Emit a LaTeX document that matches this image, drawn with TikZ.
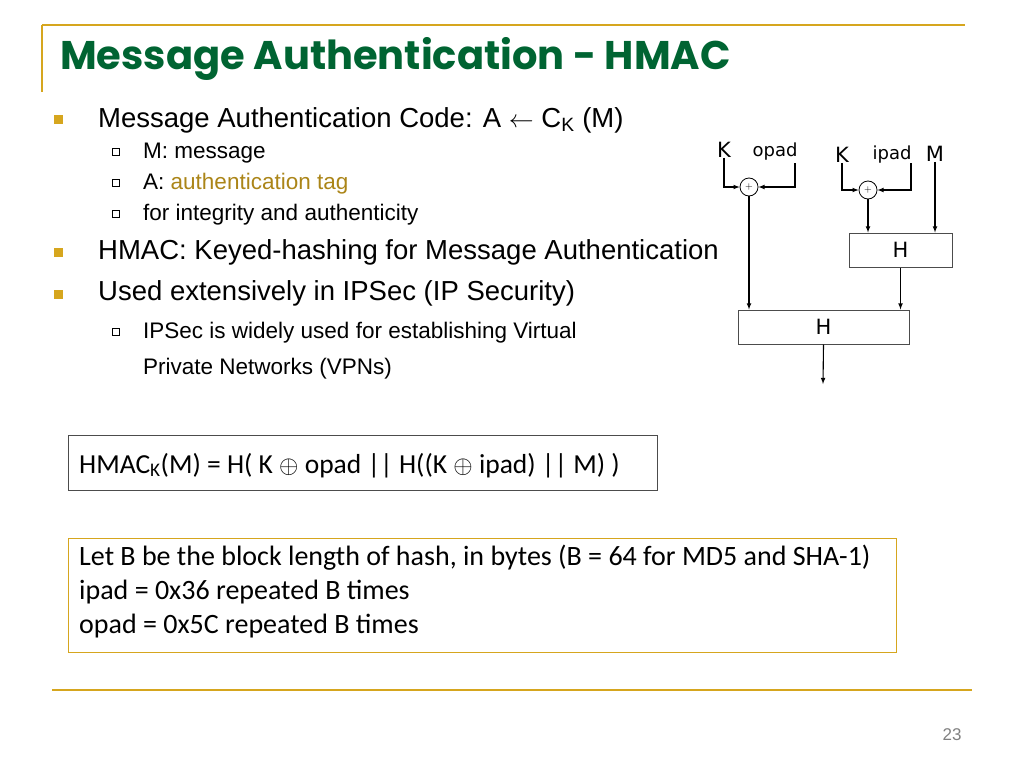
\documentclass[tikz,border=0pt]{standalone}
\usepackage{fontspec}
\setmainfont{Liberation Sans}
\newfontfamily\carl{Carlito}
\newfontfamily\ttl{Poppins}
\newfontfamily\djv{DejaVu Sans}
\begin{document}
\begin{tikzpicture}[x=1pt,y=-1pt,
  gold/.style={draw=goldc,line width=1.5pt},
  blt/.style={fill=goldc,minimum size=9pt,inner sep=0pt},
  sblt/.style={draw=black,line width=0.6pt,minimum size=7pt,inner sep=0pt},
  txt/.style={anchor=base west,inner sep=0pt,font=\fontsize{27.5}{32}\selectfont},
  stxt/.style={anchor=base west,inner sep=0pt,font=\fontsize{22.5}{26}\selectfont},
  hb/.style={draw=black!70,line width=1pt,inner sep=0pt},
  dl/.style={font=\fontsize{21}{24}\selectfont\djv,inner sep=0pt},
  xo/.style={circle,draw,line width=0.8pt,minimum size=18pt,inner sep=0pt},
  ar/.style={-latex,line width=1.1pt}]
\definecolor{goldc}{RGB}{214,166,30}
\definecolor{ttlc}{RGB}{0,100,50}
\useasboundingbox (0,0) rectangle (1024,768);
\draw[gold] (42,25) -- (965,25);
\draw[gold] (42,25) -- (42,92);
\node[anchor=base west,inner sep=0pt,text=ttlc,font=\fontsize{40}{46}\selectfont\ttl\bfseries] (title) at (60,70) {Message Authentication - HMAC};
% bullets
\node[blt] (b1) at (58,119) {};
\node[txt] (t1) at (98,127) {Message Authentication Code: A $\leftarrow$ C\textsubscript{K} (M)};
\node[sblt] (s1) at (116,152) {};
\node[stxt] (u1) at (143,158) {M: message};
\node[sblt] (s2) at (116,183) {};
\node[stxt] (u2) at (143,189) {A: \textcolor{goldc!80!black}{authentication tag}};
\node[sblt] (s3) at (116,214) {};
\node[stxt] (u3) at (143,220) {for integrity and authenticity};
\node[blt] (b2) at (58,252) {};
\node[txt] (t2) at (98,259) {HMAC: Keyed-hashing for Message Authentication};
\node[blt] (b3) at (58,294) {};
\node[txt] (t3) at (98,300) {Used extensively in IPSec (IP Security)};
\node[sblt] (s4) at (116,332) {};
\node[stxt] (u4) at (143,338) {IPSec is widely used for establishing Virtual};
\node[stxt] (u5) at (143,374) {Private Networks (VPNs)};
% formula box
\draw[draw=black!70,line width=1pt] (68,435) rectangle (657,490);
\node[anchor=base west,inner sep=0pt,font=\fontsize{27.5}{32}\selectfont\carl] (f) at (79,473) {HMAC\textsubscript{K}(M) = H( K $\oplus$ opad || H((K $\oplus$ ipad) || M) )};
\draw[gold,line width=1pt] (68,538) rectangle (896,652);
\node[anchor=north west,inner sep=0pt,align=left,font=\fontsize{28}{34}\selectfont\carl] (d) at (79,545) {Let B be the block length of hash, in bytes (B = 64 for MD5 and SHA-1)\\ipad = 0x36 repeated B times\\opad = 0x5C repeated B times};
\draw[gold] (52,690) -- (972,690);
\node[text=gray,font=\fontsize{17}{20}\selectfont] (pg) at (952,735) {23};
% diagram
\node[dl] (k1) at (724,150) {K};
\node[dl,font=\fontsize{18}{21}\selectfont\djv] (op) at (775,152) {opad};
\node[xo] (x1) at (749,187) {$+$};
\node[dl] (k2) at (842,155) {K};
\node[dl,font=\fontsize{18}{21}\selectfont\djv] (ip) at (892,155) {ipad};
\node[dl] (m) at (935,154) {M};
\node[xo] (x2) at (868,190) {$+$};
\node[hb,minimum width=103pt,minimum height=34pt,font=\fontsize{21}{24}\selectfont\djv] (h1) at (900.5,250) {H};
\node[hb,minimum width=171pt,minimum height=34pt,font=\fontsize{21}{24}\selectfont\djv] (h2) at (823.5,327) {H};
\coordinate (o) at (823,384);
\draw[ar] (k1.south) |- (x1.west);
\draw[ar] (795,163) |- (x1.east);
\draw[ar] (k2.south) |- (x2.west);
\draw[ar] (911,163) |- (x2.east);
\draw[ar] (x1.south) -- (x1.south |- h2.north);
\draw[ar] (x2.south) -- (x2.south |- h1.north);
\draw[ar] (m.south) -- (m.south |- h1.north);
\draw[ar] (h1.south) -- (h1.south |- h2.north);
\draw[ar] (h2.south) -- (o);
\end{tikzpicture}
\end{document}
